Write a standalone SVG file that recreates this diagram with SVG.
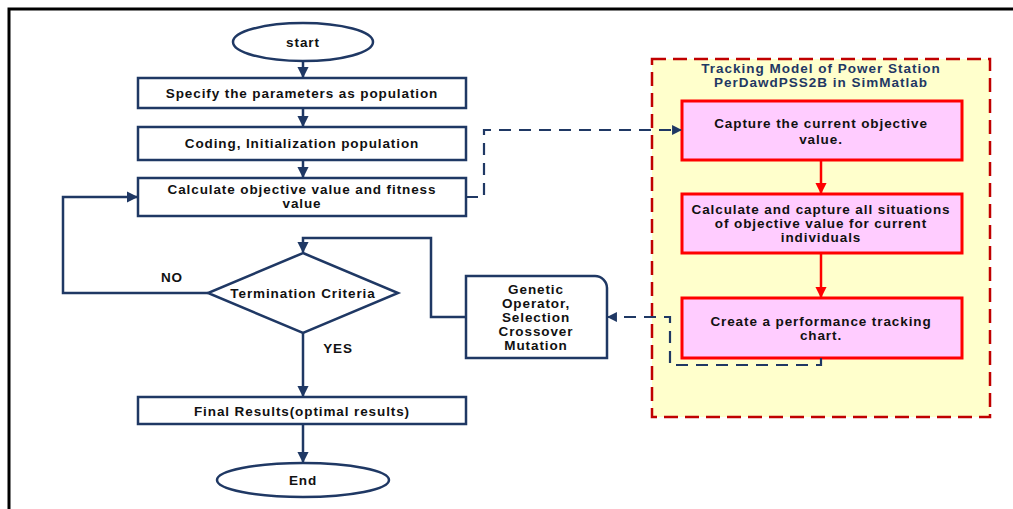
<svg xmlns="http://www.w3.org/2000/svg" width="1013" height="509" viewBox="0 0 1013 509">
<defs>
<style>
.t{font-family:"Liberation Sans",Arial,sans-serif;font-weight:bold;font-size:13.5px;letter-spacing:0.9px;fill:#111;text-anchor:middle;dominant-baseline:central}
.nv{fill:#fff;stroke:#1F3864;stroke-width:2.5}
.pk{fill:#FFCCFF;stroke:#FF0000;stroke-width:3}
.ln{fill:none;stroke:#1F3864;stroke-width:2.5}
.dl{fill:none;stroke:#1F3864;stroke-width:2.2;stroke-dasharray:12 8}
.rl{fill:none;stroke:#FF0000;stroke-width:2.5}
.ttl{font-family:"Liberation Sans",Arial,sans-serif;font-weight:bold;font-size:13.5px;letter-spacing:1px;fill:#1F3864;text-anchor:middle;dominant-baseline:central}
</style>
<marker id="a" viewBox="0 0 10 10" refX="9" refY="5" markerWidth="4.5" markerHeight="4.5" orient="auto" markerUnits="strokeWidth"><path d="M0,0L10,5L0,10z" fill="#1F3864"/></marker>
<marker id="r" viewBox="0 0 10 10" refX="9" refY="5" markerWidth="4.5" markerHeight="4.5" orient="auto" markerUnits="strokeWidth"><path d="M0,0L10,5L0,10z" fill="#FF0000"/></marker>
</defs>
<rect width="1013" height="509" fill="#fff"/>
<path d="M9,509V9H1013" fill="none" stroke="#000" stroke-width="3"/>

<g id="panel">
<rect x="652" y="59" width="338" height="358" fill="#FFFFCC" stroke="#C00000" stroke-width="2.5" stroke-dasharray="14 7"/>
<text class="ttl" x="821" y="68">Tracking Model of Power Station</text>
<text class="ttl" x="821" y="82">PerDawdPSS2B in SimMatlab</text>
</g>

<g id="start"><ellipse class="nv" cx="303" cy="42" rx="70" ry="19"/><text class="t" x="303" y="42">start</text></g>
<g id="specify"><rect class="nv" x="138" y="78" width="328" height="30"/><text class="t" x="302" y="93">Specify the parameters as population</text></g>
<g id="coding"><rect class="nv" x="138" y="127" width="328" height="33"/><text class="t" x="302" y="143">Coding, Initialization population</text></g>
<g id="calc"><rect class="nv" x="138" y="178" width="328" height="38"/><text class="t" x="302" y="189">Calculate objective value and fitness</text><text class="t" x="302" y="203">value</text></g>
<g id="term"><path class="nv" d="M303,253L398,293L303,333L208,293z"/><text class="t" x="303" y="293">Termination Criteria</text></g>
<g id="final"><rect class="nv" x="138" y="397" width="328" height="27"/><text class="t" x="302" y="411">Final Results(optimal results)</text></g>
<g id="end"><ellipse class="nv" cx="303" cy="480" rx="86" ry="17"/><text class="t" x="303" y="480">End</text></g>
<g id="genetic"><path class="nv" d="M466,276H595A12,12 0 0 1 607,288V358H466z"/>
<text class="t" x="536" y="289">Genetic</text><text class="t" x="536" y="303">Operator,</text><text class="t" x="536" y="317">Selection</text><text class="t" x="536" y="331">Crossover</text><text class="t" x="536" y="345">Mutation</text></g>
<g id="capture"><rect class="pk" x="682" y="101" width="280" height="59"/><text class="t" x="821" y="123">Capture the current objective</text><text class="t" x="821" y="139">value.</text></g>
<g id="calccap"><rect class="pk" x="682" y="194" width="280" height="59"/><text class="t" x="821" y="209">Calculate and capture all situations</text><text class="t" x="821" y="223">of objective value for current</text><text class="t" x="821" y="237">individuals</text></g>
<g id="chart"><rect class="pk" x="682" y="298" width="280" height="60"/><text class="t" x="821" y="321">Create a performance tracking</text><text class="t" x="821" y="335">chart.</text></g>

<g id="connectors">
<path class="ln" d="M303,61V77" marker-end="url(#a)"/>
<path class="ln" d="M303,108V126" marker-end="url(#a)"/>
<path class="ln" d="M303,160V177" marker-end="url(#a)"/>
<path class="ln" d="M208,293H63V197H137" marker-end="url(#a)"/>
<path class="ln" d="M303,333V396" marker-end="url(#a)"/>
<path class="ln" d="M303,424V462" marker-end="url(#a)"/>
<path class="ln" d="M466,317H431V238H303V252" marker-end="url(#a)"/>
<path class="dl" d="M466,197H484V130H681" marker-end="url(#a)"/>
<path class="dl" d="M821,358V365H670V317H608" marker-end="url(#a)"/>
<path class="rl" d="M821,160V193" marker-end="url(#r)"/>
<path class="rl" d="M821,253V297" marker-end="url(#r)"/>
<text class="t" x="172" y="277">NO</text>
<text class="t" x="338" y="348">YES</text>
</g>
</svg>
